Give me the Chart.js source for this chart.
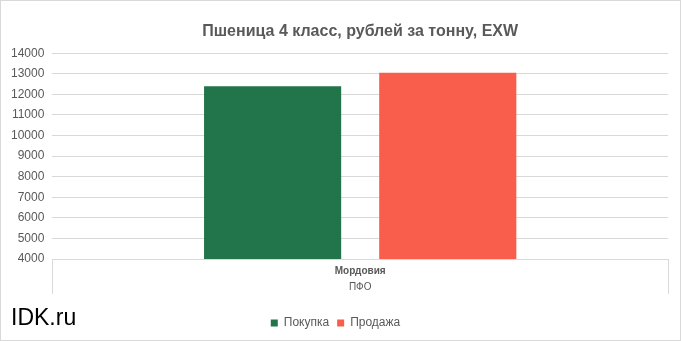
<!DOCTYPE html>
<html>
<head>
<meta charset="utf-8">
<script src="https://cdn.jsdelivr.net/npm/chart.js@4"></script>
<style>
  html, body { margin: 0; padding: 0; background: #fff; }
  #wrap { position: relative; width: 681px; height: 341px; box-sizing: border-box; border: 1px solid #d9d9d9; }
</style>
</head>
<body>
<div id="wrap"><canvas id="chart"></canvas></div>
<script>
// Chart data
const categories = ["Мордовия"];
const groupLabel = "ПФО";
const seriesNames = ["Покупка", "Продажа"];
const buyValues = [12400];
const sellValues = [13050];
const yTicks = [4000, 5000, 6000, 7000, 8000, 9000, 10000, 11000, 12000, 13000, 14000];

const textGrey = "#595959";
const gridGrey = "#d9d9d9";

// Category labels inside the axis box + watermark
const axisLabels = {
  id: "axisLabels",
  afterDraw(chart) {
    const ctx = chart.ctx;
    const x = chart.scales.x;
    const top = chart.chartArea.bottom;
    ctx.save();
    ctx.fillStyle = textGrey;
    ctx.textAlign = "center";
    ctx.textBaseline = "middle";
    categories.forEach((c, i) => {
      ctx.font = "bold 10px 'Liberation Sans', Arial, sans-serif";
      ctx.fillText(c, x.getPixelForValue(i), top + 12);
    });
    ctx.font = "10px 'Liberation Sans', Arial, sans-serif";
    ctx.fillText(groupLabel, (x.left + x.right) / 2, top + 28);

    ctx.fillStyle = "#000";
    ctx.textAlign = "left";
    ctx.font = "23px 'Liberation Sans', Arial, sans-serif";
    ctx.fillText("IDK.ru", 10, 318);
    ctx.restore();
  },
};

new Chart(document.getElementById("chart"), {
  type: "bar",
  data: {
    labels: categories,
    datasets: [
      {
        label: seriesNames[0],
        data: buyValues,
        backgroundColor: "#22744a",
        categoryPercentage: 0.569,
        barPercentage: 0.783,
      },
      {
        label: seriesNames[1],
        data: sellValues,
        backgroundColor: "#f95d4c",
        categoryPercentage: 0.569,
        barPercentage: 0.783,
      },
    ],
  },
  options: {
    responsive: true,
    maintainAspectRatio: false,
    animation: false,
    layout: { padding: { left: 2, right: 12, top: 21, bottom: 1 } },
    plugins: {
      title: {
        display: true,
        text: "Пшеница 4 класс, рублей за тонну, EXW",
        fullSize: false,
        color: textGrey,
        font: { family: "'Liberation Sans', Arial, sans-serif", size: 16, weight: "bold" },
        padding: { top: 0, bottom: 12 },
      },
      legend: {
        position: "bottom",
        labels: {
          color: textGrey,
          boxWidth: 7,
          boxHeight: 7,
          padding: 8,
          font: { family: "'Liberation Sans', Arial, sans-serif", size: 12 },
        },
      },
      tooltip: { enabled: false },
    },
    scales: {
      x: {
        offset: true,
        border: { display: false },
        grid: {
          offset: true,
          drawOnChartArea: false,
          drawTicks: true,
          tickLength: 35,
          color: gridGrey,
        },
        ticks: { display: false },
        afterFit: (axis) => {
          axis.height += 15;
        },
      },
      y: {
        min: yTicks[0],
        max: yTicks[yTicks.length - 1],
        border: { display: false },
        grid: { color: gridGrey, drawTicks: false },
        afterBuildTicks: (axis) => {
          axis.ticks = yTicks.map((v) => ({ value: v }));
        },
        ticks: {
          color: textGrey,
          padding: 8,
          font: { family: "'Liberation Sans', Arial, sans-serif", size: 12 },
          callback: (v) => String(v),
        },
      },
    },
  },
  plugins: [axisLabels],
});
</script>
</body>
</html>
